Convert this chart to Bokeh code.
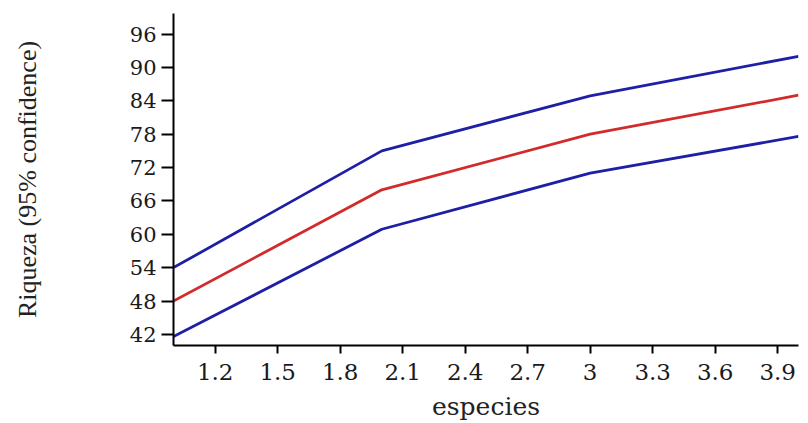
from bokeh.plotting import figure
from bokeh.models import FixedTicker, Range1d
from bokeh.embed import file_html
from bokeh.resources import INLINE

# Data
x_vals = [1, 2, 3, 4]
upper = [54.0, 75.0, 84.9, 92.0]
mean = [48.0, 68.0, 78.0, 85.0]
lower = [41.6, 60.9, 71.0, 77.6]

x_ticks = [1.2, 1.5, 1.8, 2.1, 2.4, 2.7, 3.0, 3.3, 3.6, 3.9]
x_tick_labels = ["1.2", "1.5", "1.8", "2.1", "2.4", "2.7", "3", "3.3", "3.6", "3.9"]
y_ticks = [42, 48, 54, 60, 66, 72, 78, 84, 90, 96]

x_title = "especies"
y_title = "Riqueza (95% confidence)"

p = figure(width=800, height=423, output_backend="svg", toolbar_location=None,
           x_range=Range1d(1.0, 4.0), y_range=Range1d(40.0, 99.7),
           min_border_left=173, min_border_right=2, min_border_top=13, min_border_bottom=75)
p.outline_line_color = None
p.grid.visible = False
p.background_fill_color = "white"
p.border_fill_color = "white"

blue = "#1f1fa6"
red = "#d12b2b"
p.line(x_vals, upper, line_color=blue, line_width=2.8)
p.line(x_vals, mean, line_color=red, line_width=2.8)
p.line(x_vals, lower, line_color=blue, line_width=2.8)

p.xaxis.ticker = FixedTicker(ticks=x_ticks)
p.xaxis.major_label_overrides = dict(zip(x_ticks, x_tick_labels))
p.yaxis.ticker = FixedTicker(ticks=y_ticks)

for ax in (p.xaxis, p.yaxis):
    ax.axis_line_color = "black"
    ax.axis_line_width = 2
    ax.major_tick_line_color = "black"
    ax.major_tick_line_width = 2
    ax.minor_tick_line_color = None
    ax.major_tick_in = 0
    ax.major_label_text_color = "#1a1a1a"
    ax.axis_label_text_color = "#222222"
    ax.axis_label_text_font_style = "normal"

p.xaxis.major_tick_out = 8
p.yaxis.major_tick_out = 12
p.xaxis.major_label_text_font = "DejaVu Serif"
p.xaxis.major_label_text_font_size = "23px"
p.xaxis.major_label_standoff = 10
p.yaxis.major_label_text_font = "DejaVu Serif"
p.yaxis.major_label_text_font_size = "21px"
p.yaxis.major_label_standoff = 5

p.xaxis.axis_label = x_title
p.xaxis.axis_label_text_font = "DejaVu Serif"
p.xaxis.axis_label_text_font_size = "25px"
p.xaxis.axis_label_standoff = 9
p.yaxis.axis_label = y_title
p.yaxis.axis_label_text_font = "Liberation Serif"
p.yaxis.axis_label_text_font_size = "26px"
p.yaxis.axis_label_standoff = 85

open("out.html", "w").write(file_html(p, INLINE))
